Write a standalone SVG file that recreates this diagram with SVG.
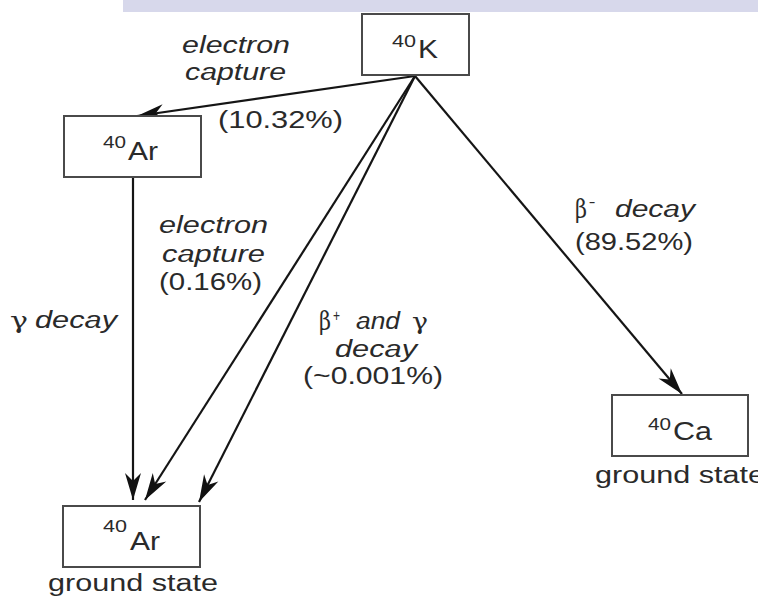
<svg xmlns="http://www.w3.org/2000/svg" width="758" height="597" viewBox="0 0 758 597">
<style>
.box{fill:#fff;stroke:#4a4a4a;stroke-width:2}
.ln{fill:none;stroke:#151515;stroke-width:2.2;marker-end:url(#ah)}
.t{font-family:"Liberation Sans",Arial,sans-serif;fill:#2a2a2a}
.lab{font-size:23px}
.it{font-style:italic}
.el{font-size:25px}
.sup{font-size:16px}
.gr{font-family:"DejaVu Serif","Liberation Serif",serif;font-size:23px;fill:#2a2a2a}
.beta{font-size:26px}
</style>
<defs>
<marker id="ah" markerUnits="userSpaceOnUse" markerWidth="30" markerHeight="20" viewBox="-28 -10 30 20" refX="0" refY="0" orient="auto">
<path d="M0,0 L-27,-8 L-19,0 L-27,8 Z" fill="#111"/>
</marker>
</defs>
<rect x="123" y="0" width="635" height="12" fill="#d7d8eb"/>
<g id="connectors">
<line class="ln" x1="415" y1="76" x2="137" y2="116"/>
<line class="ln" x1="133" y1="177" x2="133" y2="500"/>
<line class="ln" x1="415" y1="76" x2="145" y2="500"/>
<line class="ln" x1="415" y1="76" x2="199" y2="502"/>
<line class="ln" x1="415" y1="76" x2="682" y2="394"/>
</g>
<g id="K40">
<rect class="box" x="362" y="14" width="107" height="61"/>
<text class="t sup" x="392" y="47" textLength="24" lengthAdjust="spacingAndGlyphs">40</text>
<text class="t el" x="418" y="58" textLength="20" lengthAdjust="spacingAndGlyphs">K</text>
</g>
<g id="Ar40">
<rect class="box" x="64" y="116" width="137" height="61"/>
<text class="t sup" x="103" y="148" textLength="23" lengthAdjust="spacingAndGlyphs">40</text>
<text class="t el" x="128" y="160" textLength="30" lengthAdjust="spacingAndGlyphs">Ar</text>
</g>
<g id="Ar40ground">
<rect class="box" x="63" y="506" width="137" height="61"/>
<text class="t sup" x="103" y="532" textLength="24" lengthAdjust="spacingAndGlyphs">40</text>
<text class="t el" x="130" y="550" textLength="30" lengthAdjust="spacingAndGlyphs">Ar</text>
<text class="t lab" x="48" y="591" textLength="170" lengthAdjust="spacingAndGlyphs">ground state</text>
</g>
<g id="Ca40">
<rect class="box" x="612" y="395" width="136" height="61"/>
<text class="t sup" x="648" y="430" textLength="23" lengthAdjust="spacingAndGlyphs">40</text>
<text class="t el" x="673" y="440" textLength="39" lengthAdjust="spacingAndGlyphs">Ca</text>
<text class="t lab" x="595" y="483" textLength="170" lengthAdjust="spacingAndGlyphs">ground state</text>
</g>
<g id="labels">
<text class="t lab it" x="182" y="53" textLength="108" lengthAdjust="spacingAndGlyphs">electron</text>
<text class="t lab it" x="185" y="80" textLength="101" lengthAdjust="spacingAndGlyphs">capture</text>
<text class="t lab" x="218" y="128" textLength="125" lengthAdjust="spacingAndGlyphs">(10.32%)</text>
<text class="t lab it" x="159" y="233" textLength="109" lengthAdjust="spacingAndGlyphs">electron</text>
<text class="t lab it" x="162" y="262" textLength="103" lengthAdjust="spacingAndGlyphs">capture</text>
<text class="t lab" x="159" y="290" textLength="103" lengthAdjust="spacingAndGlyphs">(0.16%)</text>
<text class="gr" x="10" y="328" textLength="18" lengthAdjust="spacingAndGlyphs">γ</text>
<text class="t lab it" x="35" y="328" textLength="82" lengthAdjust="spacingAndGlyphs">decay</text>
<text class="gr beta" x="575" y="218" textLength="12" lengthAdjust="spacingAndGlyphs">β</text>
<text class="t sup" x="589" y="208" textLength="6" lengthAdjust="spacingAndGlyphs">−</text>
<text class="t lab it" x="615" y="217" textLength="80" lengthAdjust="spacingAndGlyphs">decay</text>
<text class="t lab" x="575" y="250" textLength="118" lengthAdjust="spacingAndGlyphs">(89.52%)</text>
<text class="gr beta" x="319" y="330" textLength="12" lengthAdjust="spacingAndGlyphs">β</text>
<text class="t sup" x="333" y="321" textLength="7" lengthAdjust="spacingAndGlyphs">+</text>
<text class="t lab it" x="356" y="329" textLength="44" lengthAdjust="spacingAndGlyphs">and</text>
<text class="gr" x="412" y="329" textLength="16" lengthAdjust="spacingAndGlyphs">γ</text>
<text class="t lab it" x="335" y="357" textLength="82" lengthAdjust="spacingAndGlyphs">decay</text>
<text class="t lab" x="303" y="384" textLength="140" lengthAdjust="spacingAndGlyphs">(~0.001%)</text>
</g>
</svg>
